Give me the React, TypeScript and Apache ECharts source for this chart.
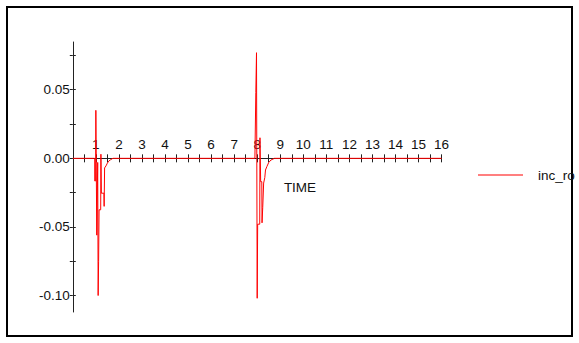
import React, { useEffect, useRef } from "react";
import * as echarts from "echarts";

const seriesName = "inc_ro";
const axisTitle = "TIME";

// [time, value] pairs
const incRo: [number, number][] = [
  [0, 0], [0.9, 0], [0.95, 0], [0.951, -0.0165], [0.99, -0.0165], [1.0, 0.035], [1.03, 0.035],
  [1.04, -0.056], [1.06, -0.056], [1.08, -0.003], [1.1, -0.1], [1.12, -0.075], [1.14, -0.0375],
  [1.21, -0.0375], [1.22, 0.003], [1.24, -0.0254], [1.35, -0.0254], [1.36, -0.035], [1.38, -0.007],
  [1.44, -0.0055], [1.5, -0.0035], [1.56, -0.002], [1.64, -0.001], [1.74, 0],
  [7.9, 0], [7.93, 0], [7.94, 0.048], [7.96, 0.048], [7.97, 0.077], [7.99, 0.077], [8.0, -0.102],
  [8.02, -0.048], [8.11, -0.048], [8.12, 0.015], [8.15, -0.017], [8.2, -0.017], [8.21, -0.047],
  [8.24, -0.036], [8.27, -0.036], [8.28, -0.018], [8.33, -0.014], [8.36, -0.0085], [8.42, -0.006],
  [8.5, -0.003], [8.6, -0.0012], [8.75, 0], [16, 0],
];

const xLabelValues = [1, 2, 3, 4, 5, 6, 7, 8, 9, 10, 11, 12, 13, 14, 15, 16];
const xTickValues = [
  0, 0.5, 1, 1.5, 2, 2.5, 3, 3.5, 4, 4.5, 5, 5.5, 6, 6.5, 7, 7.5, 8, 8.5, 9, 9.5, 10, 10.5,
  11, 11.5, 12, 12.5, 13, 13.5, 14, 14.5, 15, 15.5, 16,
];
const yLabelValues = [-0.1, -0.05, 0, 0.05];
const yTickValues = [-0.1, -0.075, -0.05, -0.025, 0, 0.025, 0.05, 0.075];

const FONT = "Liberation Sans, Arial, sans-serif";
const TEXT = "#111";
const AXIS = "#222";

const Y_MIN = -0.112;
const Y_MAX = 0.0848;

export default function App() {
  const ref = useRef<HTMLDivElement>(null);
  useEffect(() => {
    document.body.style.margin = "0";
    const chart = echarts.init(ref.current!, null, { renderer: "svg" });
    const left = 72.8;
    const right = 137.4;
    const top = 42;
    const bottom = 31;
    const plotH = 343 - top - bottom;
    const zeroY = top + (Y_MAX / (Y_MAX - Y_MIN)) * plotH;
    const baseX = {
      type: "value" as const,
      min: 0,
      max: 16,
      splitLine: { show: false },
    };
    chart.setOption({
      animation: false,
      backgroundColor: "#fff",
      textStyle: { fontFamily: FONT },
      grid: [
        { left, right, top, bottom, containLabel: false },
        { left, right, top, bottom: 343 - zeroY, containLabel: false },
      ],
      xAxis: [
        { ...baseX, gridIndex: 0, show: false },
        {
          ...baseX,
          gridIndex: 1,
          position: "bottom",
          axisLine: { show: true, onZero: false, lineStyle: { color: AXIS, width: 1 } },
          axisTick: { show: true, inside: false, length: 4, customValues: xTickValues, lineStyle: { color: AXIS } },
          axisLabel: {
            show: true,
            inside: true,
            margin: 7,
            customValues: xLabelValues,
            color: TEXT,
            fontSize: 13.5,
            fontFamily: FONT,
          },
        },
        {
          ...baseX,
          gridIndex: 1,
          position: "bottom",
          axisLine: { show: false, onZero: false },
          axisTick: { show: true, inside: true, length: 4, customValues: xTickValues, lineStyle: { color: AXIS } },
          axisLabel: { show: false },
        },
      ],
      yAxis: [
        {
          type: "value",
          gridIndex: 0,
          min: Y_MIN,
          max: Y_MAX,
          splitLine: { show: false },
          position: "left",
          axisLine: { show: true, onZero: false, lineStyle: { color: AXIS, width: 1 } },
          axisTick: { show: true, inside: false, length: 3, customValues: yTickValues, lineStyle: { color: AXIS } },
          axisLabel: {
            show: true,
            margin: 3,
            customValues: yLabelValues,
            formatter: (v: number) => v.toFixed(2),
            color: TEXT,
            fontSize: 13.5,
            fontFamily: FONT,
          },
        },
        {
          type: "value",
          gridIndex: 0,
          min: Y_MIN,
          max: Y_MAX,
          splitLine: { show: false },
          position: "left",
          axisLine: { show: false, onZero: false },
          axisTick: { show: true, inside: true, length: 3, customValues: yTickValues, lineStyle: { color: AXIS } },
          axisLabel: { show: false },
        },
        { type: "value", gridIndex: 1, show: false, min: 0, max: 1 },
      ],
      legend: {
        show: true,
        left: 478,
        top: 168,
        padding: 0,
        orient: "vertical",
        itemWidth: 45,
        itemHeight: 1.2,
        data: [{ name: seriesName, icon: "rect" }],
        textStyle: { color: TEXT, fontSize: 13.5, fontFamily: FONT, padding: [0, 0, 0, 10] },
      },
      graphic: [
        {
          type: "rect",
          shape: { x: 7, y: 7, width: 565, height: 329 },
          style: { fill: "none", stroke: "#000", lineWidth: 2 },
          silent: true,
        },
        {
          type: "text",
          x: 300,
          y: 187,
          style: {
            text: axisTitle,
            fill: TEXT,
            font: `13.5px ${FONT}`,
            align: "center",
            verticalAlign: "middle",
          },
        },
      ],
      series: [
        {
          name: seriesName,
          type: "line",
          xAxisIndex: 0,
          yAxisIndex: 0,
          data: incRo,
          showSymbol: false,
          symbol: "none",
          lineStyle: { color: "#ff0000", width: 1 },
          itemStyle: { color: "#ff0000" },
          z: 5,
        },
      ],
    });
    return () => chart.dispose();
  }, []);
  return <div ref={ref} style={{ width: 579, height: 343 }} />;
}
